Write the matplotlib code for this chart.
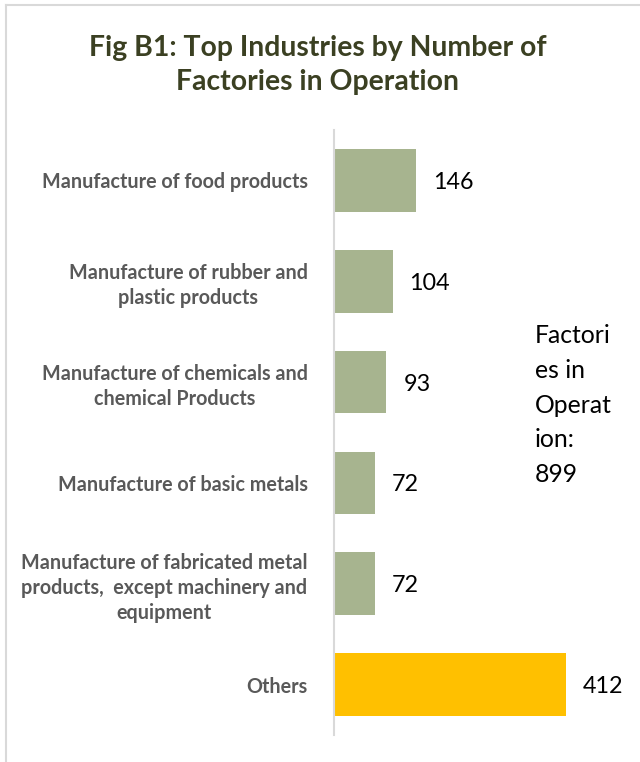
import matplotlib
matplotlib.use("Agg")
import matplotlib.pyplot as plt
from matplotlib.lines import Line2D

categories = [
    "Manufacture of food products",
    "Manufacture of rubber and\nplastic products",
    "Manufacture of chemicals and\nchemical Products",
    "Manufacture of basic metals",
    "Manufacture of fabricated metal\nproducts,  except machinery and\nequipment",
    "Others",
]
values = [146, 104, 93, 72, 72, 412]
colors = ["#a7b48f"] * 5 + ["#ffc000"]
title = "Fig B1: Top Industries by Number of\nFactories in Operation"
note = "Factori\nes in\nOperat\nion:\n899"

W, H = 640, 762
fig = plt.figure(figsize=(W / 100, H / 100), dpi=100)
fig.patch.set_facecolor("white")

ax = fig.add_axes([334 / W, 1 - 735 / H, (W - 334) / W, (735 - 130) / H])
y = list(range(len(categories)))
ax.barh(y, values, height=0.62, color=colors)
ax.set_ylim(len(categories) - 0.5, -0.5)
ax.set_xlim(0, 306 / 0.5635)

for s in ["top", "right", "bottom"]:
    ax.spines[s].set_visible(False)
ax.spines["left"].set_color("#d9d9d9")
ax.spines["left"].set_linewidth(1.5)
ax.set_xticks([])
ax.set_yticks(y)
ax.set_yticklabels(categories, fontfamily="Lato", fontweight="bold",
                   fontsize=14.2, color="#595959", multialignment="center",
                   linespacing=1.32)
ax.tick_params(axis="y", length=0, pad=19)

for yi, v in zip(y, values):
    ax.annotate(str(v), (v, yi), xytext=(17, -2), textcoords="offset pixels",
                va="center", ha="left", fontsize=16.8, fontfamily="Lato", color="black")

fig.text(318 / W, 1 - 65 / H, title, ha="center", va="center", fontsize=20.4,
         fontweight="bold", fontfamily="Lato", color="#3b4022", linespacing=1.38)
fig.text(535 / W, 1 - 405 / H, note, ha="left", va="center", fontsize=17.8,
         fontfamily="Lato", color="black", linespacing=1.63)

fig.add_artist(Line2D([6 / W, 1], [1 - 5 / H, 1 - 5 / H], transform=fig.transFigure,
                      color="#d9d9d9", lw=1.5))
fig.add_artist(Line2D([6 / W, 6 / W], [0, 1 - 5 / H], transform=fig.transFigure,
                      color="#d9d9d9", lw=1.5))

fig.savefig("out.png", dpi=100)
